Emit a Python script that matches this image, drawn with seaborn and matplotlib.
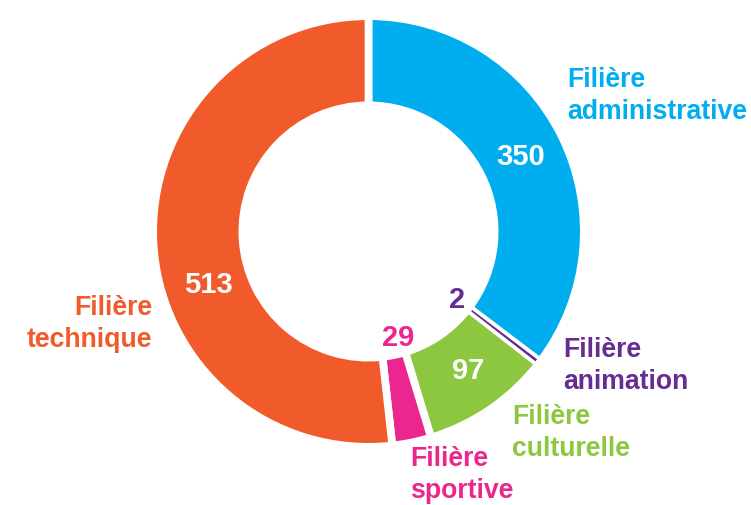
import matplotlib.pyplot as plt
import seaborn as sns

# data
filieres = ["administrative", "animation", "culturelle", "sportive", "technique"]
effectifs = [350, 2, 97, 29, 513]
couleurs = ["#00AEEF", "#662D91", "#8DC63F", "#EC268F", "#F15A2B"]

# style / placement (pixels, origin top-left)
W, H = 751, 505
centre = (368.5, 231.5)
r_out, r_in = 211.5, 130
gap_px = 7.7
num_pos = [(521, 157), (457, 300), (468, 371), (398, 338), (208, 285)]
num_col = ["white", "#662D91", "white", "#EC268F", "white"]
lab_pos = [(567, 87, "left"), (563, 357, "left"), (512, 424, "left"),
           (410, 466, "left"), (152, 315, "right")]
line_gap = 32

sns.set_theme(style="white")
plt.rcParams["font.family"] = ["Liberation Sans", "DejaVu Sans"]

fig = plt.figure(figsize=(W / 100, H / 100), dpi=100)
ax = fig.add_axes([0, 0, 1, 1])

lw = gap_px * 72 / 100
R = r_out + gap_px / 2
wedges, _ = ax.pie(effectifs, colors=couleurs, startangle=90, counterclock=False,
                   center=(centre[0], H - centre[1]), radius=R, frame=True,
                   wedgeprops=dict(width=R - r_in + gap_px / 2, edgecolor="white",
                                   linewidth=lw))
ax.set_xlim(0, W)
ax.set_ylim(0, H)
ax.set_aspect("equal")
ax.axis("off")

# the tiny slice stays visible on top of the white separators
thin = wedges[effectifs.index(min(effectifs))]
thin.set_edgecolor("none")
thin.set_radius(r_out)
thin.set_width(r_out - r_in)
thin.set_zorder(5)

for v, (x, y), c in zip(effectifs, num_pos, num_col):
    ax.text(x, H - y, str(v), color=c, fontsize=21, fontweight="bold",
            ha="center", va="center", zorder=6)

for f, (x, y, ha), c in zip(filieres, lab_pos, couleurs):
    ax.text(x, H - y, "Filière", color=c, fontsize=19.2, fontweight="bold",
            ha=ha, va="baseline")
    ax.text(x, H - y - line_gap, f, color=c, fontsize=19.2, fontweight="bold",
            ha=ha, va="baseline")

fig.savefig("out.png", dpi=100, facecolor="white")
